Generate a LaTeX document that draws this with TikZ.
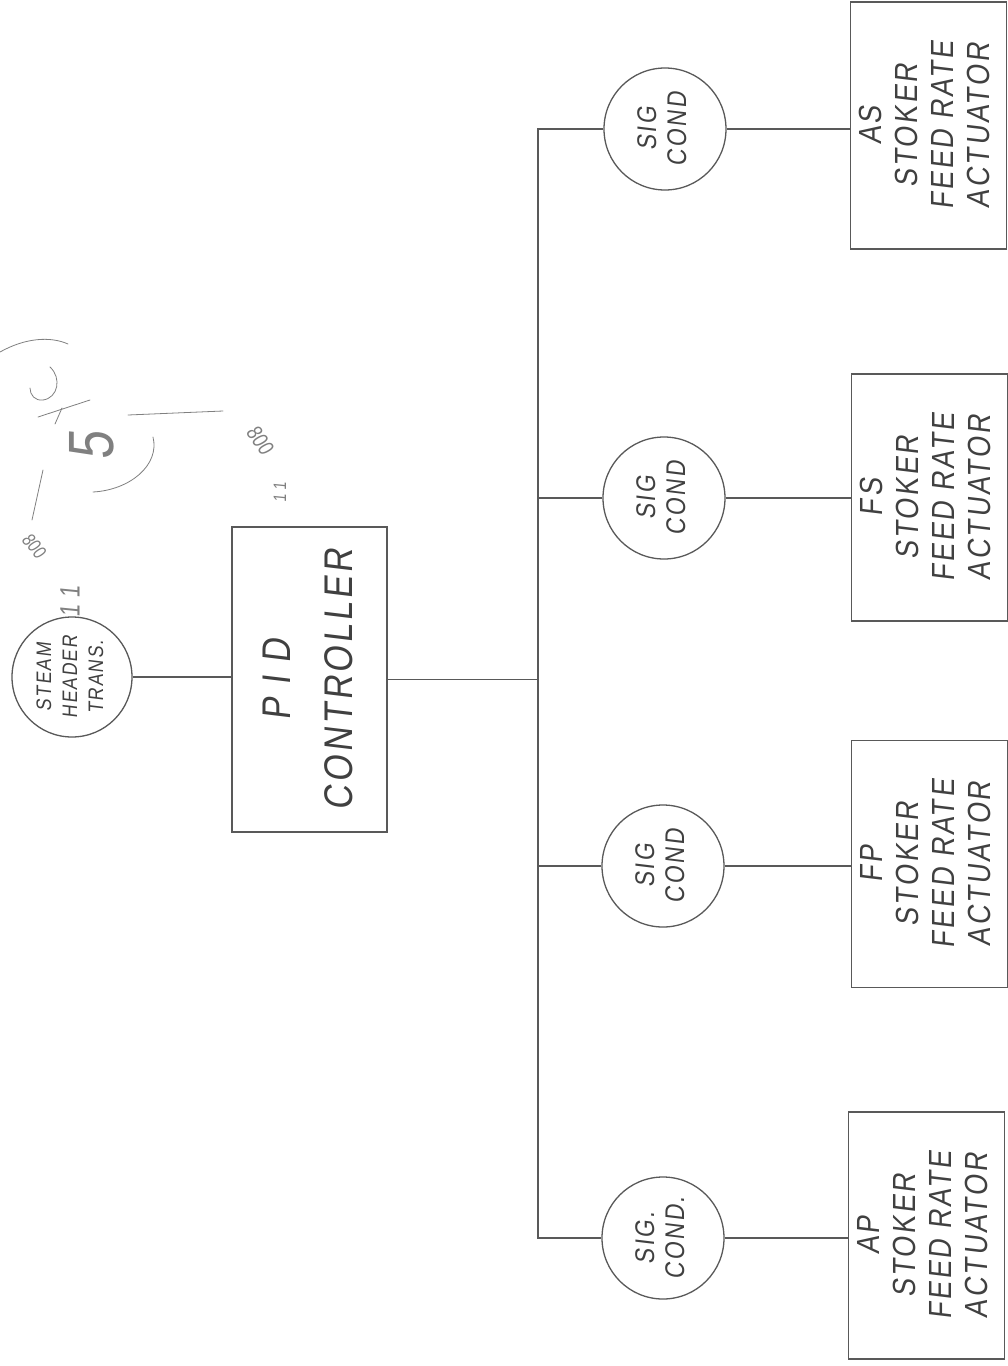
\documentclass[tikz,border=0pt]{standalone}
\usepackage{fontspec}
\setmainfont{Liberation Sans}
\newfontfamily\hand[FakeSlant=0.12,FakeStretch=0.85,LetterSpace=8]{Liberation Sans}
\newfontfamily\scribfont[FakeSlant=0.1,FakeStretch=0.8]{Liberation Sans}
\newcommand{\rottext}[2]{\rotatebox{90}{#1\begin{tabular}{@{}c@{}}#2\end{tabular}}}
\tikzset{
  pencil/.style={draw=black!65, line width=1.3pt},
  wire/.style={draw=black!65, line width=1.2pt},
  actbox/.style={pencil, rectangle, minimum width=156pt, minimum height=247pt, inner sep=0pt, text=black!75},
  pidbox/.style={pencil, rectangle, minimum width=155pt, minimum height=305pt, inner sep=0pt, text=black!75},
  sigcirc/.style={pencil, circle, minimum size=122pt, inner sep=0pt, text=black!75},
  scrib/.style={text=black!50, inner sep=0pt},
  scribline/.style={draw=black!50, line width=0.8pt, line cap=round},
}
\begin{document}
\begin{tikzpicture}[x=1pt,y=-1pt]
\fill[white] (0,0) rectangle (1008,1366);
\useasboundingbox (0,0) rectangle (1008,1366);

% transmitter and controller
\node[sigcirc, minimum size=120pt] (steam) at (72,677)
  {\rottext{\hand\fontsize{21}{26}\selectfont}{STEAM\\HEADER\\TRANS.}};
\node[pidbox] (pid) at (309.5,679.5)
  {\rottext{\hand\fontsize{40}{62}\selectfont}{P I D\\CONTROLLER}};

% signal conditioners
\node[sigcirc] (sc1) at (665,129)  {\rottext{\hand\fontsize{27}{30}\selectfont}{SIG\\COND}};
\node[sigcirc] (sc2) at (664,498)  {\rottext{\hand\fontsize{27}{30}\selectfont}{SIG\\COND}};
\node[sigcirc] (sc3) at (663,866)  {\rottext{\hand\fontsize{27}{30}\selectfont}{SIG\\COND}};
\node[sigcirc] (sc4) at (663,1238) {\rottext{\hand\fontsize{27}{30}\selectfont}{SIG.\\COND.}};

% actuators
\node[actbox] (a1) at (928.5,125.5)
  {\rottext{\hand\fontsize{32}{36}\selectfont}{AS\\STOKER\\FEED RATE\\ACTUATOR}};
\node[actbox] (a2) at (929.5,497.5)
  {\rottext{\hand\fontsize{32}{36}\selectfont}{FS\\STOKER\\FEED RATE\\ACTUATOR}};
\node[actbox] (a3) at (929.5,864)
  {\rottext{\hand\fontsize{32}{36}\selectfont}{FP\\STOKER\\FEED RATE\\ACTUATOR}};
\node[actbox] (a4) at (926.5,1235.5)
  {\rottext{\hand\fontsize{32}{36}\selectfont}{AP\\STOKER\\FEED RATE\\ACTUATOR}};

% connectors
\coordinate (bt) at (538,129);
\coordinate (bb) at (538,1238);
\draw[wire] (steam.east) -- (steam.east -| pid.west);
\draw[wire] (pid.east) -- (pid.east -| bt);
\draw[wire] (sc1.west) -- (bt) -- (bb) -- (sc4.west);
\draw[wire] (sc2.west) -- (sc2.west -| bt);
\draw[wire] (sc3.west) -- (sc3.west -| bt);
\draw[wire] (sc1.east) -- (sc1.east -| a1.west);
\draw[wire] (sc2.east) -- (sc2.east -| a2.west);
\draw[wire] (sc3.east) -- (sc3.east -| a3.west);
\draw[wire] (sc4.east) -- (sc4.east -| a4.west);

% pencil scribble
\draw[scribline] (0,352) .. controls (25,338) and (50,336) .. (68,344);
\draw[scribline] (50,367) .. controls (62,378) and (58,398) .. (43,400) .. controls (35,401) and (30,395) .. (30,388);
\draw[scribline] (38,417) -- (90,400);
\draw[scribline] (55,424) -- (62,408);
\draw[scribline] (153,437) .. controls (160,465) and (130,490) .. (93,492);
\draw[scribline] (43,470) -- (32,520);
\draw[scribline] (128,415) -- (223,411);
\node[scrib, rotate=90] (five) at (92,446) {\scribfont\fontsize{64}{64}\selectfont 5};
\node[scrib, rotate=-50] (lnum) at (34,546) {\scribfont\fontsize{19}{19}\selectfont 800};
\node[scrib, rotate=90] (lones) at (70,602) {\scribfont\fontsize{28}{28}\selectfont 1 1};
\node[scrib, rotate=-55] (rnum) at (260,440) {\scribfont\fontsize{22}{22}\selectfont 800};
\node[scrib, rotate=90] (rones) at (280,492) {\scribfont\fontsize{18}{18}\selectfont 1 1};
\end{tikzpicture}
\end{document}
